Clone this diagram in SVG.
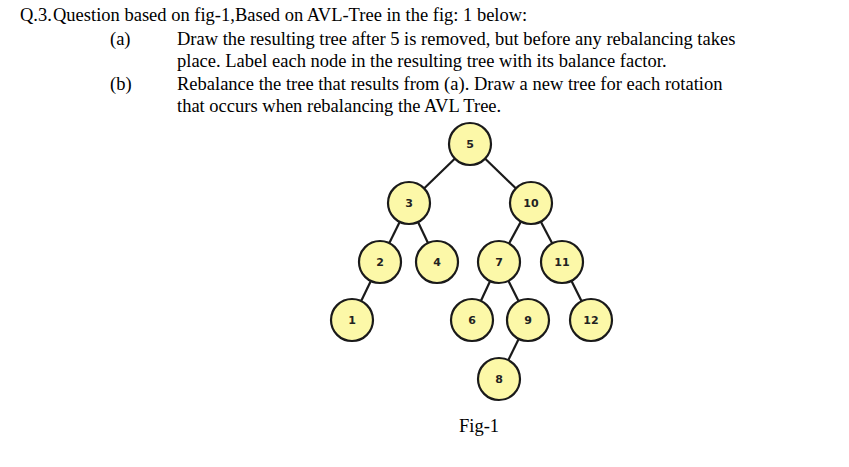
<svg xmlns="http://www.w3.org/2000/svg" width="849" height="467" viewBox="0 0 849 467">
<style>
.t{font-family:"Liberation Serif",serif;font-size:18.5px;fill:#000}
.n circle{fill:#fcf8a8;stroke:#1a1a1a;stroke-width:2.2}
.n text{font-family:"DejaVu Sans",sans-serif;font-size:11px;font-weight:bold;fill:#222;text-anchor:middle}
#edges line{stroke:#1a1a1a;stroke-width:2.2}
</style>
<rect width="849" height="467" fill="#fff"/>
<text class="t" x="20" y="21">Q.3.</text>
<text class="t" x="53" y="21">Question based on fig-1,Based on AVL-Tree in the fig: 1 below:</text>
<text class="t" x="110" y="45">(a)</text>
<text class="t" x="177" y="45">Draw the resulting tree after 5 is removed, but before any rebalancing takes</text>
<text class="t" x="177" y="67">place. Label each node in the resulting tree with its balance factor.</text>
<text class="t" x="110" y="90">(b)</text>
<text class="t" x="177" y="90">Rebalance the tree that results from (a). Draw a new tree for each rotation</text>
<text class="t" x="177" y="112">that occurs when rebalancing the AVL Tree.</text>
<g id="edges">
<line x1="470" y1="144" x2="409" y2="203"/>
<line x1="470" y1="144" x2="531" y2="203"/>
<line x1="409" y1="203" x2="380" y2="262"/>
<line x1="409" y1="203" x2="437" y2="262"/>
<line x1="531" y1="203" x2="499" y2="262"/>
<line x1="531" y1="203" x2="562" y2="262"/>
<line x1="380" y1="262" x2="352" y2="320"/>
<line x1="499" y1="262" x2="472" y2="320"/>
<line x1="499" y1="262" x2="528" y2="320"/>
<line x1="562" y1="262" x2="591" y2="320"/>
<line x1="528" y1="320" x2="499" y2="379"/>
</g>
<g id="n5" class="n"><circle cx="470" cy="144" r="21"/><text x="470" y="148">5</text></g>
<g id="n3" class="n"><circle cx="409" cy="203" r="21"/><text x="409" y="207">3</text></g>
<g id="n10" class="n"><circle cx="531" cy="203" r="21"/><text x="531" y="207">10</text></g>
<g id="n2" class="n"><circle cx="380" cy="262" r="21"/><text x="380" y="266">2</text></g>
<g id="n4" class="n"><circle cx="437" cy="262" r="21"/><text x="437" y="266">4</text></g>
<g id="n7" class="n"><circle cx="499" cy="262" r="21"/><text x="499" y="266">7</text></g>
<g id="n11" class="n"><circle cx="562" cy="262" r="21"/><text x="562" y="266">11</text></g>
<g id="n1" class="n"><circle cx="352" cy="320" r="21"/><text x="352" y="324">1</text></g>
<g id="n6" class="n"><circle cx="472" cy="320" r="21"/><text x="472" y="324">6</text></g>
<g id="n9" class="n"><circle cx="528" cy="320" r="21"/><text x="528" y="324">9</text></g>
<g id="n12" class="n"><circle cx="591" cy="320" r="21"/><text x="591" y="324">12</text></g>
<g id="n8" class="n"><circle cx="499" cy="379" r="21"/><text x="499" y="383">8</text></g>
<text class="t" x="459" y="432">Fig-1</text>
</svg>
